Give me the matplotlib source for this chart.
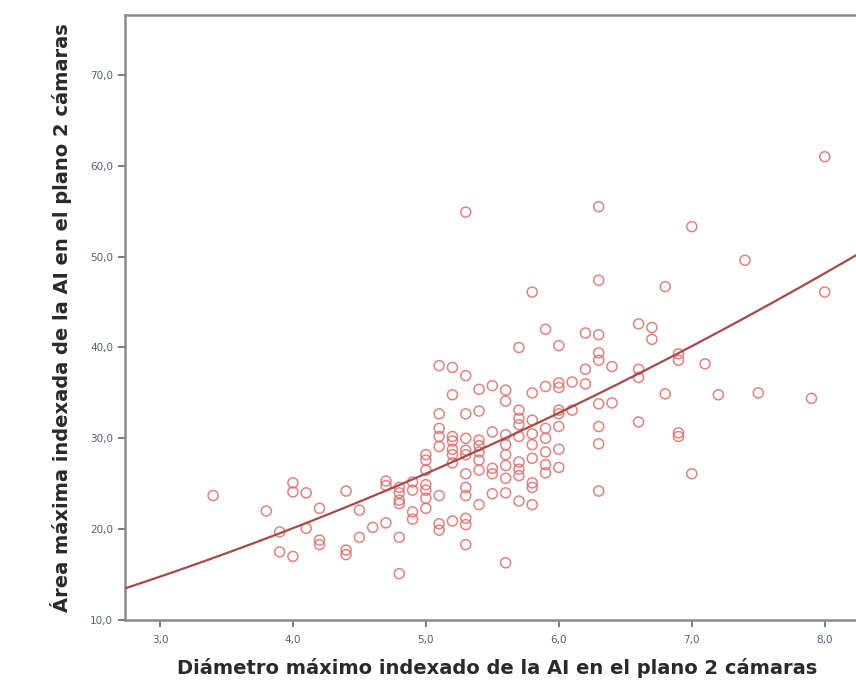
import matplotlib
matplotlib.use('Agg')
import matplotlib.pyplot as plt
import numpy as np
from matplotlib.ticker import FuncFormatter

# diametro maximo indexado (x) / area maxima indexada (y)
diametro = [3.4, 3.8, 3.9, 3.9, 4.0, 4.0, 4.0, 4.1, 4.1, 4.2, 4.2, 4.2,
            4.4, 4.4, 4.4, 4.5, 4.5, 4.6, 4.7, 4.7, 4.7,
            4.8, 4.8, 4.8, 4.8, 4.8, 4.8, 4.9, 4.9, 4.9, 4.9,
            5.0, 5.0, 5.0, 5.0, 5.0, 5.0, 5.0,
            5.1, 5.1, 5.1, 5.1, 5.1, 5.1, 5.1, 5.1,
            5.2, 5.2, 5.2, 5.2, 5.2, 5.2, 5.2, 5.2,
            5.3, 5.3, 5.3, 5.3, 5.3, 5.3, 5.3, 5.3, 5.3, 5.3, 5.3, 5.3,
            5.4, 5.4, 5.4, 5.4, 5.4, 5.4, 5.4, 5.4,
            5.5, 5.5, 5.5, 5.5, 5.5,
            5.6, 5.6, 5.6, 5.6, 5.6, 5.6, 5.6, 5.6, 5.6,
            5.7, 5.7, 5.7, 5.7, 5.7, 5.7, 5.7, 5.7, 5.7,
            5.8, 5.8, 5.8, 5.8, 5.8, 5.8, 5.8, 5.8, 5.8,
            5.9, 5.9, 5.9, 5.9, 5.9, 5.9, 5.9,
            6.0, 6.0, 6.0, 6.0, 6.0, 6.0, 6.0, 6.0,
            6.1, 6.1, 6.2, 6.2, 6.2,
            6.3, 6.3, 6.3, 6.3, 6.3, 6.3, 6.3, 6.3, 6.3,
            6.4, 6.4, 6.6, 6.6, 6.6, 6.6, 6.7, 6.7, 6.8, 6.8,
            6.9, 6.9, 6.9, 6.9, 7.0, 7.0, 7.1, 7.2, 7.4, 7.5, 7.9, 8.0, 8.0]
area = [23.7, 22.0, 19.7, 17.5, 25.1, 24.1, 17.0, 24.0, 20.1, 22.3, 18.8, 18.3,
        24.2, 17.7, 17.2, 22.1, 19.1, 20.2, 25.3, 24.8, 20.7,
        24.6, 24.0, 23.2, 22.8, 19.1, 15.1, 25.2, 24.3, 21.9, 21.1,
        28.2, 27.6, 26.5, 24.9, 24.3, 23.4, 22.3,
        38.0, 32.7, 31.1, 30.2, 29.1, 23.7, 20.6, 19.9,
        37.8, 34.8, 30.2, 29.7, 28.8, 28.2, 27.3, 20.9,
        54.9, 36.9, 32.7, 30.0, 28.7, 28.2, 26.1, 24.6, 23.7, 21.2, 20.5, 18.3,
        35.4, 33.0, 29.8, 29.2, 28.5, 27.6, 26.5, 22.7,
        35.8, 30.7, 26.7, 26.1, 23.9,
        35.3, 34.1, 30.4, 29.3, 28.2, 27.0, 25.6, 24.0, 16.3,
        40.0, 33.1, 32.2, 31.5, 30.2, 27.4, 26.6, 25.9, 23.1,
        46.1, 35.0, 32.0, 30.5, 29.3, 27.8, 25.1, 24.6, 22.7,
        42.0, 35.7, 31.1, 30.0, 28.5, 27.1, 26.2,
        40.2, 36.1, 35.6, 33.1, 32.7, 31.3, 28.8, 26.8,
        36.2, 33.1, 41.6, 37.6, 36.0,
        55.5, 47.4, 41.4, 39.4, 38.6, 33.8, 31.3, 29.4, 24.2,
        37.9, 33.9, 42.6, 37.6, 36.7, 31.8, 42.2, 40.9, 46.7, 34.9,
        39.3, 38.6, 30.6, 30.2, 53.3, 26.1, 38.2, 34.8, 49.6, 35.0, 34.4, 61.0, 46.1]

# quadratic fit line (coefficients a + b*x + c*x^2)
fit_coef = [2.80, 2.983, 0.336]

xticks = [3.0, 4.0, 5.0, 6.0, 7.0, 8.0]
yticks = [10.0, 20.0, 30.0, 40.0, 50.0, 60.0, 70.0]

fig = plt.figure(figsize=(8.56, 6.91), dpi=100)
# axes run past the right edge of the figure, like the cropped original
ax = fig.add_axes([0.146, 0.1027, 0.87, 0.8756])

ax.scatter(diametro, area, s=52, facecolors='none', edgecolors='#e66a6a',
           linewidths=1.1, alpha=0.85, zorder=2)

xx = np.linspace(2.7, 8.6, 300)
yy = fit_coef[0] + fit_coef[1] * xx + fit_coef[2] * xx ** 2
ax.plot(xx, yy, color='#a84848', lw=1.6, zorder=3)

ax.set_xlim(2.737, 8.338)
ax.set_ylim(10.0, 76.6)
ax.set_xticks(xticks)
ax.set_yticks(yticks)
fmt = FuncFormatter(lambda v, p: ('%.1f' % v).replace('.', ','))
ax.xaxis.set_major_formatter(fmt)
ax.yaxis.set_major_formatter(fmt)

for s in ['left', 'bottom', 'top', 'right']:
    ax.spines[s].set_color('#8c8c8c')
    ax.spines[s].set_linewidth(1.8)
ax.tick_params(direction='out', length=5, width=1.2, color='#666666',
               labelsize=7.5, labelcolor='#556070')
ax.tick_params(axis='x', pad=6)

ax.set_xlabel('Diámetro máximo indexado de la AI en el plano 2 cámaras',
              fontsize=14, fontweight='bold', color='#2a2a2a', labelpad=9)
ax.set_ylabel('Área máxima indexada de la AI en el plano 2 cámaras',
              fontsize=14, fontweight='bold', color='#2a2a2a', labelpad=13)

plt.savefig('out.png', dpi=100)
